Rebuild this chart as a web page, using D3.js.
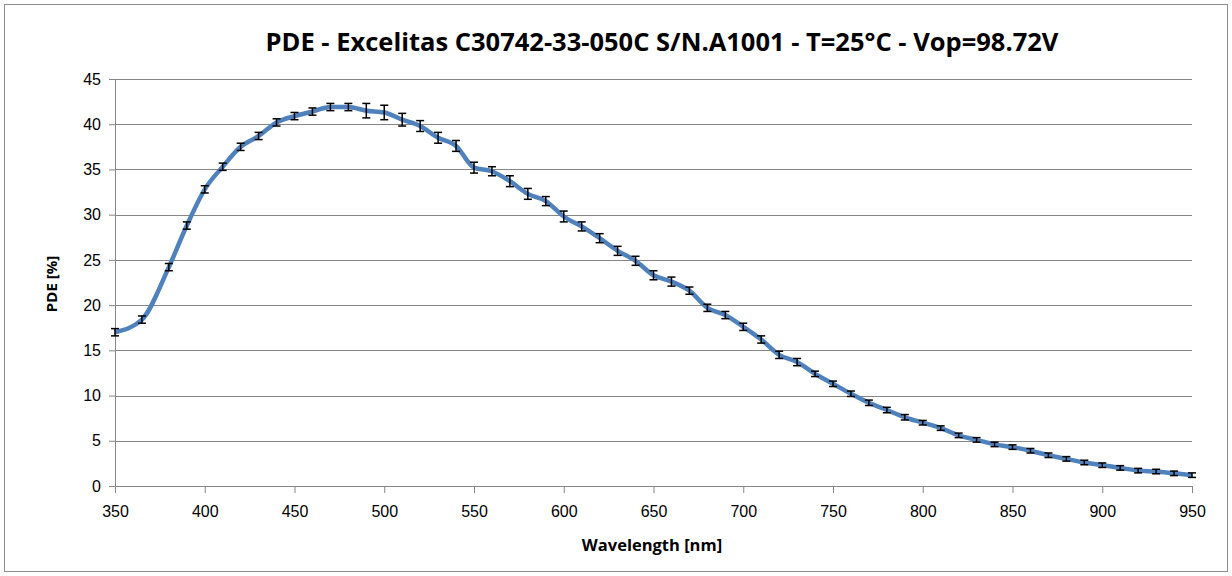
<!DOCTYPE html>
<html>
<head>
<meta charset="utf-8">
<script src="https://cdn.jsdelivr.net/npm/d3@7"></script>
<style>
  body { margin: 0; background: #fff; }
  svg { font-family: "Open Sans", "DejaVu Sans", sans-serif; }
  .axis text { font-size: 16px; fill: #000; }
  .axis path, .axis line { stroke: #868686; }
</style>
</head>
<body>
<svg width="1232" height="576"></svg>
<script>
var wavelength = [350, 365, 380, 390, 400, 410, 420, 430, 440, 450, 460, 470, 480, 490, 500,
  510, 520, 530, 540, 550, 560, 570, 580, 590, 600, 610, 620, 630, 640, 650, 660, 670, 680,
  690, 700, 710, 720, 730, 740, 750, 760, 770, 780, 790, 800, 810, 820, 830, 840, 850, 860,
  870, 880, 890, 900, 910, 920, 930, 940, 950];
var pde = [17.0, 18.4, 24.2, 28.8, 32.8, 35.3, 37.5, 38.7, 40.2, 40.9, 41.4, 41.9, 41.9, 41.5, 41.3,
  40.5, 39.8, 38.5, 37.6, 35.2, 34.8, 33.7, 32.3, 31.5, 29.8, 28.7, 27.4, 26.0, 24.9, 23.3, 22.6, 21.6, 19.7,
  18.9, 17.6, 16.2, 14.5, 13.7, 12.4, 11.3, 10.2, 9.2, 8.4, 7.6, 7.0, 6.4, 5.6, 5.1, 4.6, 4.3, 3.9,
  3.4, 3.0, 2.6, 2.3, 2.0, 1.7, 1.6, 1.4, 1.2];
var pdeErr = [0.4, 0.4, 0.4, 0.4, 0.4, 0.4, 0.4, 0.4, 0.4, 0.4, 0.4, 0.4, 0.4, 0.8, 0.8,
  0.7, 0.6, 0.6, 0.6, 0.6, 0.5, 0.6, 0.6, 0.5, 0.6, 0.5, 0.5, 0.5, 0.5, 0.5, 0.5, 0.4, 0.4,
  0.4, 0.4, 0.4, 0.4, 0.4, 0.3, 0.3, 0.3, 0.3, 0.3, 0.3, 0.25, 0.25, 0.25, 0.25, 0.25, 0.25, 0.25,
  0.25, 0.25, 0.25, 0.25, 0.25, 0.25, 0.25, 0.25, 0.25];
var xTicks = [350, 400, 450, 500, 550, 600, 650, 700, 750, 800, 850, 900, 950];
var yTicks = [0, 5, 10, 15, 20, 25, 30, 35, 40, 45];

var svg = d3.select("svg"),
    margin = {top: 79, right: 40, bottom: 90, left: 115},
    width = 1192 - margin.left,
    height = 486 - margin.top,
    g = svg.append("g").attr("transform", "translate(" + margin.left + "," + margin.top + ")");

// chart border
svg.append("rect")
    .attr("x", 4.5).attr("y", 4.5)
    .attr("width", 1223).attr("height", 567)
    .attr("fill", "none").attr("stroke", "#8c8c8c");

var data = wavelength.map(function(w, i) {
  return {w: w, v: pde[i], e: pdeErr[i]};
});

var x = d3.scaleLinear().domain([350, 950]).range([0, width]);
var y = d3.scaleLinear().domain([0, 45]).range([height, 0]);

// gridlines
g.append("g")
  .selectAll("line")
  .data(yTicks.slice(1))
  .enter().append("line")
    .attr("x1", 0).attr("x2", width)
    .attr("y1", function(d) { return Math.round(y(d)) + 0.5; })
    .attr("y2", function(d) { return Math.round(y(d)) + 0.5; })
    .attr("stroke", "#868686");

g.append("g")
    .attr("class", "axis")
    .attr("transform", "translate(0," + height + ")")
    .call(d3.axisBottom(x).tickValues(xTicks).tickSize(7).tickPadding(13).tickSizeOuter(0));

g.append("g")
    .attr("class", "axis")
    .call(d3.axisLeft(y).tickValues(yTicks).tickSize(6).tickPadding(8).tickSizeOuter(0));

var line = d3.line()
    .x(function(d) { return x(d.w); })
    .y(function(d) { return y(d.v); })
    .curve(d3.curveMonotoneX);

g.append("path")
    .datum(data)
    .attr("fill", "none")
    .attr("stroke", "#4f81bd")
    .attr("stroke-width", 4.5)
    .attr("stroke-linejoin", "round")
    .attr("d", line);

// error bars
var eb = g.append("g").attr("stroke", "#000").attr("stroke-width", 1.5);
eb.selectAll(".v").data(data).enter().append("line")
    .attr("x1", function(d) { return x(d.w); })
    .attr("x2", function(d) { return x(d.w); })
    .attr("y1", function(d) { return y(d.v - d.e); })
    .attr("y2", function(d) { return y(d.v + d.e); });
eb.selectAll(".top").data(data).enter().append("line")
    .attr("x1", function(d) { return x(d.w) - 4; })
    .attr("x2", function(d) { return x(d.w) + 4; })
    .attr("y1", function(d) { return y(d.v + d.e); })
    .attr("y2", function(d) { return y(d.v + d.e); });
eb.selectAll(".bot").data(data).enter().append("line")
    .attr("x1", function(d) { return x(d.w) - 4; })
    .attr("x2", function(d) { return x(d.w) + 4; })
    .attr("y1", function(d) { return y(d.v - d.e); })
    .attr("y2", function(d) { return y(d.v - d.e); });

svg.append("text")
    .attr("x", 662).attr("y", 51)
    .attr("text-anchor", "middle")
    .attr("font-size", 25.5).attr("font-weight", "bold")
    .text("PDE - Excelitas C30742-33-050C S/N.A1001 - T=25°C - Vop=98.72V");

svg.append("text")
    .attr("x", 652).attr("y", 551)
    .attr("text-anchor", "middle")
    .attr("font-size", 16.5).attr("font-weight", "bold")
    .text("Wavelength [nm]");

svg.append("text")
    .attr("transform", "translate(57,284) rotate(-90)")
    .attr("text-anchor", "middle")
    .attr("font-size", 15).attr("font-weight", "bold")
    .text("PDE [%]");
</script>
</body>
</html>
